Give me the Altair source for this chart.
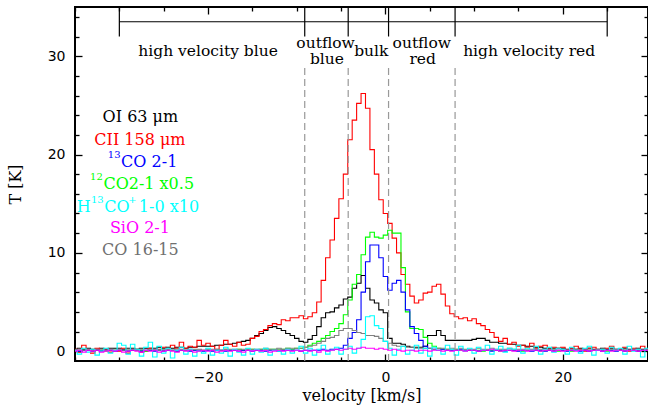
import altair as alt
import pandas as pd

# ---------------- data ----------------
V0 = -35.0
DV = 0.5
N_CHAN = 131
velocity = [V0 + DV * i for i in range(N_CHAN)]  # channel centres, km/s

oi_63 = [
    0.2, 0.3, 0.2, 0.3, 0.2, 0.2, 0.3, 0.2, 0.3, 0.3,
    0.3, 0.2, 0.3, 0.3, 0.2, 0.3, 0.3, 0.3, 0.3, 0.4,
    0.3, 0.4, 0.3, 0.4, 0.4, 0.3, 0.4, 0.4, 0.5, 0.5,
    0.5, 0.5, 0.6, 0.6, 0.7, 0.7, 0.8, 0.9, 1.0, 1.1,
    1.3, 1.6, 1.8, 2.1, 2.4, 2.5, 2.3, 2.1, 1.8, 1.6,
    1.3, 1.0, 0.9, 1.2, 1.6, 2.5, 3.4, 3.9, 4.0, 4.4,
    4.7, 5.3, 5.5, 6.4, 6.9, 7.7, 6.4, 5.2, 4.9, 4.2,
    3.9, 1.3, 0.8, 0.8, 0.7, 0.5, 0.4, 0.4, 0.4, 0.5,
    1.6, 1.6, 2.1, 1.6, 1.1, 1.1, 1.1, 1.1, 1.1, 1.1,
    1.2, 1.3, 1.3, 1.1, 0.9, 0.9, 0.8, 0.8, 0.7, 0.7,
    0.6, 0.6, 0.5, 0.5, 0.4, 0.4, 0.3, 0.3, 0.3, 0.3,
    0.3, 0.2, 0.3, 0.2, 0.3, 0.2, 0.3, 0.2, 0.2, 0.3,
    0.2, 0.3, 0.2, 0.2, 0.3, 0.2, 0.2, 0.3, 0.2, 0.2,
    0.2,
]

cii_158 = [
    0.2, -0.1, 0.6, 0.1, -0.2, 0.3, 0.0, 0.2, -0.1, 0.1,
    0.0, 0.3, -0.2, 0.1, 0.2, -0.1, 0.0, 0.3, 0.1, 0.2,
    0.4, 0.2, 0.6, 0.3, 0.9, 0.3, 0.5, 0.4, 1.1, 0.6,
    0.8, 0.5, 0.2, 0.6, 1.1, 0.7, 0.5, 0.9, 0.6, 0.7,
    1.3, 1.5, 2.0, 2.2, 2.6, 2.8, 2.7, 3.2, 3.1, 3.4,
    3.4, 3.6, 3.3, 3.5, 3.9, 5.0, 7.2, 9.5, 11.3, 13.5,
    15.5, 18.0, 21.5, 23.5, 25.2, 26.2, 24.7, 20.5, 18.0, 15.4,
    14.0, 13.0, 11.5, 10.0, 7.8, 6.8, 5.6, 4.9, 5.2, 5.9,
    6.0, 6.6, 6.8, 5.8, 4.6, 3.8, 3.5, 3.3, 3.4, 3.1,
    3.3, 2.8, 2.6, 2.2, 1.9, 1.4, 1.0, 1.3, 0.7, 0.9,
    0.5, 0.6, 0.4, 0.8, 0.3, 0.5, 0.6, 0.2, 0.4, 0.3,
    0.4, 0.1, 0.3, 0.5, 0.2, 0.0, 0.3, 0.4, 0.1, 0.2,
    0.3, 0.5, 0.1, 0.2, 0.4, 0.0, 0.3, 0.1, 0.5, 0.2,
    0.2,
]

co13_21 = [
    0.1, 0.0, 0.1, 0.1, 0.0, 0.1, 0.0, 0.1, 0.1, 0.0,
    0.1, 0.1, 0.0, 0.1, 0.1, 0.0, 0.1, 0.1, 0.0, 0.1,
    0.0, 0.1, 0.1, 0.0, 0.1, 0.1, 0.0, 0.1, 0.1, 0.0,
    0.1, 0.0, 0.1, 0.1, 0.0, 0.1, 0.1, 0.0, 0.1, 0.1,
    0.0, 0.1, 0.1, 0.0, 0.1, 0.1, 0.0, 0.1, 0.1, 0.1,
    0.1, 0.0, 0.1, 0.1, 0.1, 0.1, 0.2, 0.1, 0.2, 0.2,
    0.3, 0.6, 1.3, 1.9, 3.2, 6.0, 9.1, 10.8, 10.8, 9.5,
    7.6, 6.2, 6.9, 7.2, 6.0, 4.2, 2.5, 1.8, 1.1, 0.5,
    0.3, 0.2, 0.1, 0.2, 0.1, 0.1, 0.1, 0.2, 0.1, 0.1,
    0.1, 0.0, 0.1, 0.1, 0.0, 0.1, 0.1, 0.0, 0.1, 0.1,
    0.0, 0.1, 0.1, 0.0, 0.1, 0.1, 0.0, 0.1, 0.0, 0.1,
    0.1, 0.0, 0.1, 0.1, 0.0, 0.1, 0.0, 0.1, 0.1, 0.0,
    0.1, 0.1, 0.0, 0.1, 0.0, 0.1, 0.1, 0.0, 0.1, 0.1,
    0.1,
]

co12_21_half = [
    0.1, 0.0, 0.1, 0.1, 0.0, 0.1, 0.1, 0.0, 0.1, 0.1,
    0.1, 0.1, 0.0, 0.1, 0.1, 0.1, 0.0, 0.1, 0.1, 0.1,
    0.1, 0.1, 0.1, 0.0, 0.1, 0.1, 0.1, 0.1, 0.1, 0.1,
    0.1, 0.1, 0.1, 0.1, 0.2, 0.1, 0.1, 0.2, 0.1, 0.2,
    0.2, 0.1, 0.2, 0.2, 0.2, 0.2, 0.2, 0.2, 0.3, 0.2,
    0.3, 0.3, 0.4, 0.6, 0.8, 1.0, 1.3, 1.6, 2.0, 2.3,
    2.8, 3.7, 5.2, 6.8, 7.8, 9.8, 11.6, 12.1, 11.6, 11.5,
    11.8, 12.3, 12.0, 12.0, 8.5, 4.0, 2.3, 2.3, 2.2, 1.4,
    0.8, 0.5, 0.3, 0.2, 0.2, 0.1, 0.2, 0.1, 0.1, 0.1,
    0.1, 0.1, 0.0, 0.1, 0.1, 0.1, 0.0, 0.1, 0.1, 0.1,
    0.1, 0.0, 0.1, 0.1, 0.1, 0.0, 0.1, 0.1, 0.1, 0.0,
    0.1, 0.1, 0.0, 0.1, 0.1, 0.1, 0.0, 0.1, 0.1, 0.1,
    0.0, 0.1, 0.1, 0.1, 0.0, 0.1, 0.1, 0.0, 0.1, 0.1,
    0.1,
]

h13co_10x = [
    0.1, -0.3, 0.3, -0.1, 0.2, -0.4, 0.0, 0.3, -0.2, 0.1,
    0.8, 0.6, -0.3, 0.7, 0.2, -0.5, 0.4, 0.9, -0.6, 0.5,
    -0.2, 0.3, -0.7, 0.1, 0.4, -0.3, 0.2, -0.5, 0.0, -0.2,
    0.3, -0.4, 0.1, -0.2, 0.4, -0.5, 0.2, -0.1, -0.4, 0.3,
    -0.3, 0.2, -0.1, 0.3, -0.4, 0.1, 0.0, -0.3, 0.2, -0.2,
    0.1, 0.5, -0.2, 0.3, -0.4, 0.2, 0.6, -0.3, 0.1, 0.4,
    -0.3, 0.2, 0.5, -0.2, 0.3, 1.2, 3.5, 3.6, 2.6, 2.3,
    1.0, 0.3, -0.4, 0.2, 0.5, -0.3, 0.1, 0.6, -0.2, 0.3,
    -0.5, 0.4, 0.1, -0.3, 0.6, 0.2, -0.4, 0.5, 0.0, 0.3,
    -0.2, 0.4, 0.1, 0.6, -0.3, 0.2, 0.5, -0.1, 0.3, 0.2,
    0.6, -0.2, 0.3, 0.1, 0.5, -0.3, 0.2, 0.4, -0.1, 0.3,
    0.2, -0.3, 0.4, 0.1, -0.2, 0.3, 0.5, -0.4, 0.1, 0.2,
    -0.2, 0.4, 0.1, 0.3, -0.3, 0.5, 0.0, 0.2, -0.6, 0.3,
    0.1,
]

sio_21 = [
    0.0, 0.1, -0.1, 0.1, 0.0, 0.1, -0.1, 0.0, 0.1, 0.0,
    0.1, -0.1, 0.0, 0.1, 0.0, -0.1, 0.1, 0.0, 0.1, -0.1,
    0.0, 0.1, 0.0, -0.1, 0.1, 0.0, 0.1, -0.1, 0.0, 0.1,
    0.0, 0.1, -0.1, 0.0, 0.1, 0.0, 0.1, 0.0, -0.1, 0.1,
    0.0, 0.1, 0.0, 0.1, -0.1, 0.0, 0.1, 0.0, 0.1, 0.0,
    0.1, 0.0, 0.1, 0.0, 0.1, -0.1, 0.1, 0.0, 0.1, 0.2,
    0.1, 0.2, 0.3, 0.2, 0.3, 0.4, 0.3, 0.3, 0.2, 0.3,
    0.2, 0.1, 0.2, 0.1, 0.0, 0.1, 0.1, 0.0, 0.1, 0.1,
    0.0, 0.1, 0.1, 0.0, 0.1, 0.0, 0.1, 0.1, 0.0, 0.1,
    0.1, 0.0, 0.1, 0.1, 0.2, 0.1, 0.0, 0.1, 0.1, 0.0,
    0.1, 0.1, 0.0, 0.1, 0.1, 0.0, 0.1, 0.1, 0.0, 0.1,
    0.0, 0.1, 0.1, 0.0, 0.1, 0.1, 0.0, 0.1, 0.1, 0.0,
    0.1, 0.0, 0.1, 0.1, 0.0, 0.1, 0.1, 0.0, 0.1, 0.1,
    0.0,
]

co_16_15 = [
    0.1, 0.2, 0.1, 0.2, 0.1, 0.2, 0.2, 0.1, 0.2, 0.1,
    0.2, 0.1, 0.2, 0.2, 0.1, 0.2, 0.1, 0.2, 0.2, 0.1,
    0.2, 0.2, 0.1, 0.2, 0.2, 0.1, 0.2, 0.2, 0.2, 0.1,
    0.2, 0.2, 0.2, 0.1, 0.2, 0.2, 0.2, 0.2, 0.2, 0.2,
    0.2, 0.2, 0.2, 0.3, 0.2, 0.2, 0.3, 0.2, 0.3, 0.3,
    0.3, 0.3, 0.4, 0.5, 0.6, 0.8, 1.0, 1.3, 1.4, 1.6,
    2.1, 2.3, 2.3, 2.1, 1.9, 1.8, 1.6, 1.6, 1.5, 1.3,
    1.0, 0.8, 0.6, 0.5, 0.5, 0.4, 0.4, 0.3, 0.3, 0.3,
    0.3, 0.2, 0.3, 0.3, 0.2, 0.3, 0.2, 0.3, 0.2, 0.2,
    0.2, 0.3, 0.2, 0.2, 0.3, 0.2, 0.2, 0.2, 0.3, 0.2,
    0.2, 0.2, 0.1, 0.2, 0.2, 0.2, 0.1, 0.2, 0.2, 0.1,
    0.2, 0.1, 0.2, 0.2, 0.1, 0.2, 0.2, 0.1, 0.2, 0.2,
    0.1, 0.2, 0.2, 0.1, 0.2, 0.1, 0.2, 0.2, 0.1, 0.2,
    0.1,
]

# velocity-range boundaries (km/s)
bracket_ends = [-30.0, 25.0]
boundaries = [-9.1, -4.2, 0.35, 7.85]
bracket_T = [32.0, 33.5, 35.0]
dash_top_T = 29.1

region_names = ["high velocity blue", "outflow", "blue", "bulk", "outflow", "red", "high velocity red"]
region_v = [-20.0, -6.75, -6.6, -1.6, 4.1, 4.2, 16.2]
region_T = [30.5, 31.35, 29.7, 30.5, 31.35, 29.7, 30.5]

# legend text pieces: (text, colour, v, T, font size)
legend_center = [
    ("OI 63 μm", "#000000", -27.63, 23.8, 16),
    ("CII 158 μm", "#ff0000", -27.68, 21.5, 16),
    ("SiO 2-1", "#ff00ff", -27.68, 12.5, 16),
    ("CO 16-15", "#707070", -27.63, 10.27, 16),
]
legend_left = [
    ("13", "#0000ff", -31.3, 19.95, 10),
    ("CO 2-1", "#0000ff", -29.8, 19.2, 16),
    ("12", "#00ff00", -33.3, 17.7, 10),
    ("CO2-1 x0.5", "#00ff00", -31.8, 17.05, 16),
    ("H", "#00ffff", -34.8, 14.65, 16),
    ("13", "#00ffff", -33.2, 15.4, 10),
    ("CO", "#00ffff", -31.7, 14.65, 16),
    ("+", "#00ffff", -29.0, 15.4, 10),
    ("1-0 x10", "#00ffff", -27.8, 14.65, 16),
]

x_major = [-20, 0, 20]
x_minor = [-35, -30, -25, -15, -10, -5, 5, 10, 15, 25]
y_major = [0, 10, 20, 30]
y_minor = [2, 4, 6, 8, 12, 14, 16, 18, 22, 24, 26, 28, 32, 34]

# ---------------- chart ----------------
W, H = 573, 354
xs = alt.Scale(domain=[-35, 29.6], nice=False, zero=False)
ys = alt.Scale(domain=[-1, 35], nice=False, zero=False)


def tick_axis(orient, values, size, **kw):
    return alt.Axis(orient=orient, values=values, tickSize=size, offset=-size,
                    domain=False, grid=False, ticks=True, tickColor="black",
                    tickWidth=1.3, **kw)


ax_x_main = tick_axis("bottom", x_major, 7, labels=True, labelFont="DejaVu Sans",
                      labelFontSize=14, labelColor="black", labelPadding=9,
                      title="velocity [km/s]", titleFont="DejaVu Serif",
                      titleFontSize=16, titleFontWeight="normal", titleColor="black",
                      titleX=W / 2, titleY=41, titleAlign="center", titleBaseline="middle")
ax_y_main = tick_axis("left", y_major, 7, labels=True, labelFont="DejaVu Sans",
                      labelFontSize=14, labelColor="black", labelPadding=10,
                      title="T [K]", titleFont="DejaVu Serif", titleFontSize=16,
                      titleFontWeight="normal", titleColor="black", titleAngle=270,
                      titleX=-67, titleY=H / 2, titleAlign="center", titleBaseline="middle")
ax_x_minor = tick_axis("bottom", x_minor, 4, labels=False, title=None)
ax_y_minor = tick_axis("left", y_minor, 4, labels=False, title=None)
ax_x_top_major = tick_axis("top", x_major, 7, labels=False, title=None)
ax_x_top_minor = tick_axis("top", x_minor, 4, labels=False, title=None)
ax_y_right_major = tick_axis("right", y_major, 7, labels=False, title=None)
ax_y_right_minor = tick_axis("right", y_minor, 4, labels=False, title=None)


def spectrum(values, color, xaxis=None, yaxis=None):
    df = pd.DataFrame({"v": velocity, "T": values})
    return alt.Chart(df).mark_line(interpolate="step", color=color, strokeWidth=1.1,
                                   clip=True).encode(
        x=alt.X("v:Q", scale=xs, axis=xaxis),
        y=alt.Y("T:Q", scale=ys, axis=yaxis),
    )


layers = [
    spectrum(oi_63, "#000000", ax_x_main, ax_y_main),
    spectrum(cii_158, "#ff0000", ax_x_minor, ax_y_minor),
    spectrum(co12_21_half, "#00ff00", ax_x_top_major, ax_y_right_major),
    spectrum(co13_21, "#0000ff", ax_x_top_minor, ax_y_right_minor),
    spectrum(co_16_15, "#808080"),
    spectrum(h13co_10x, "#00ffff"),
    spectrum(sio_21, "#ff00ff"),
]

# dashed boundaries
dash_df = pd.DataFrame({"v": boundaries, "T0": [-1] * len(boundaries),
                        "T1": [dash_top_T] * len(boundaries)})
layers.append(alt.Chart(dash_df).mark_rule(color="#999999", strokeWidth=1.2,
                                           strokeDash=[7, 4]).encode(
    x=alt.X("v:Q", scale=xs, axis=None),
    y=alt.Y("T0:Q", scale=ys, axis=None),
    y2="T1:Q"))

# bracket
bh_df = pd.DataFrame({"v0": [bracket_ends[0]], "v1": [bracket_ends[1]], "T": [bracket_T[1]]})
layers.append(alt.Chart(bh_df).mark_rule(color="black", strokeWidth=1.2).encode(
    x=alt.X("v0:Q", scale=xs, axis=None), x2="v1:Q",
    y=alt.Y("T:Q", scale=ys, axis=None)))
bv = [bracket_ends[0]] + boundaries + [bracket_ends[1]]
bv_df = pd.DataFrame({"v": bv, "T0": [bracket_T[0]] * len(bv), "T1": [bracket_T[2]] * len(bv)})
layers.append(alt.Chart(bv_df).mark_rule(color="black", strokeWidth=1.2).encode(
    x=alt.X("v:Q", scale=xs, axis=None),
    y=alt.Y("T0:Q", scale=ys, axis=None), y2="T1:Q"))

# region names
reg_df = pd.DataFrame({"t": region_names, "v": region_v, "T": region_T})
layers.append(alt.Chart(reg_df).mark_text(font="DejaVu Serif", fontSize=15.5, color="black",
                                          align="center", baseline="middle").encode(
    x=alt.X("v:Q", scale=xs, axis=None),
    y=alt.Y("T:Q", scale=ys, axis=None),
    text="t:N"))

# legend text
for rows, al in ((legend_center, "center"), (legend_left, "left")):
    ldf = pd.DataFrame(rows, columns=["t", "c", "v", "T", "fs"])
    layers.append(alt.Chart(ldf).mark_text(font="DejaVu Serif", align=al,
                                           baseline="middle").encode(
        x=alt.X("v:Q", scale=xs, axis=None),
        y=alt.Y("T:Q", scale=ys, axis=None),
        text="t:N",
        color=alt.Color("c:N", scale=None),
        size=alt.Size("fs:Q", scale=None)))

chart = alt.layer(*layers).properties(
    width=W, height=H,
    padding={"left": 75, "top": 7, "right": 0, "bottom": 44},
    autosize=alt.AutoSizeParams(type="none"),
    background="white",
).resolve_axis(x="independent", y="independent").configure_view(
    stroke="black", strokeWidth=2)

chart.save("out.html", embed_options={"renderer": "svg", "actions": False})
